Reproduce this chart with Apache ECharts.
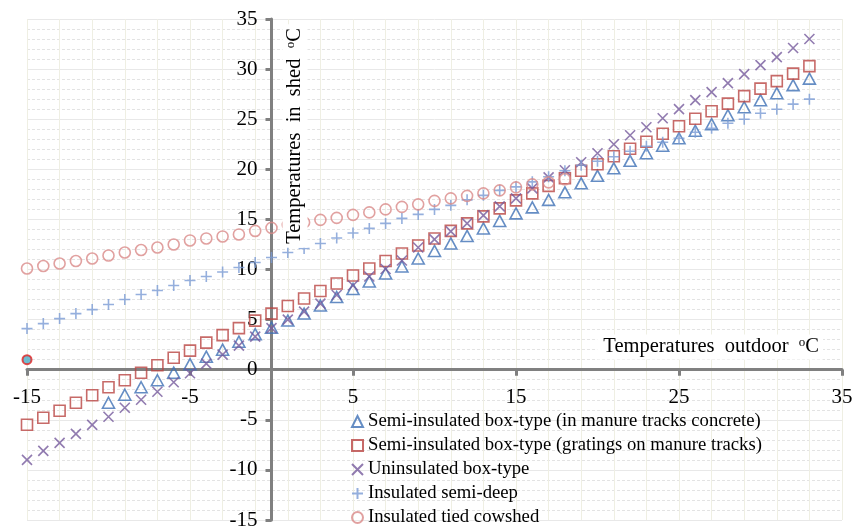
<!DOCTYPE html>
<html>
<head>
<meta charset="utf-8">
<script src="https://cdn.jsdelivr.net/npm/echarts@6/dist/echarts.min.js"></script>
<style>
    html, body { margin: 0; padding: 0; background: #fff; }
    #chart { width: 857px; height: 530px; }
</style>
</head>
<body>
<div id="chart"></div>
<script>
// outdoor temperature, oC
var outdoor = [-15, -14, -13, -12, -11, -10, -9, -8, -7, -6, -5, -4, -3, -2, -1, 0, 1, 2, 3, 4, 5, 6, 7, 8, 9,
    10, 11, 12, 13, 14, 15, 16, 17, 18, 19, 20, 21, 22, 23, 24, 25, 26, 27, 28, 29, 30, 31, 32, 33];

// temperatures in shed, oC (null = no point)
var concrete = [null, null, null, null, null, -3.3, -2.5, -1.75, -1.05, -0.3, 0.55, 1.3, 2.0, 2.8, 3.55, 4.2, 4.9, 5.6, 6.4, 7.25,
    8.05, 8.8, 9.6, 10.3, 11.1, 11.85, 12.6, 13.35, 14.1, 14.85, 15.6, 16.2, 16.95, 17.7, 18.6, 19.35, 20.1, 20.85, 21.6, 22.35,
    23.1, 23.85, 24.5, 25.4, 26.2, 26.9, 27.6, 28.4, 29.05];
var gratings = [-5.5, -4.8, -4.1, -3.3, -2.55, -1.75, -1.05, -0.3, 0.45, 1.2, 1.9, 2.7, 3.45, 4.15, 4.9, 5.6, 6.35, 7.1, 7.85, 8.6,
    9.4, 10.1, 10.85, 11.6, 12.4, 13.1, 13.85, 14.6, 15.3, 16.1, 16.9, 17.6, 18.35, 19.1, 19.85, 20.5, 21.3, 22.05, 22.75, 23.55,
    24.3, 25.05, 25.8, 26.55, 27.3, 28.05, 28.8, 29.55, 30.3];
var uninsulated = [-9.0, -8.1, -7.3, -6.4, -5.5, -4.7, -3.8, -3.0, -2.2, -1.25, -0.35, 0.6, 1.5, 2.4, 3.3, 4.15, 5.0, 5.8, 6.6, 7.45,
    8.4, 9.3, 10.05, 10.9, 12.2, 13.0, 13.8, 14.6, 15.4, 16.3, 17.1, 18.1, 19.2, 19.9, 20.7, 21.6, 22.5, 23.4, 24.2, 25.1,
    26.0, 26.9, 27.7, 28.6, 29.5, 30.4, 31.2, 32.1, 33.0];
var semiDeep = [4.1, 4.6, 5.1, 5.6, 6.0, 6.5, 7.0, 7.5, 7.9, 8.4, 8.9, 9.3, 9.75, 10.2, 10.7, 11.2, 11.7, 12.1, 12.6, 13.15,
    13.65, 14.1, 14.6, 15.1, 15.5, 16.0, 16.4, 16.95, 17.4, 17.9, 18.25, 18.75, 19.25, 19.85, 20.4, 20.8, 21.25, 21.8, 22.3, 22.7,
    23.1, 23.7, 24.1, 24.6, 25.0, 25.6, 26.0, 26.5, 27.0];
var cowshed = [10.1, 10.35, 10.6, 10.85, 11.1, 11.4, 11.7, 11.95, 12.2, 12.5, 12.9, 13.1, 13.3, 13.5, 13.85, 14.15, 14.45, 14.7, 14.95, 15.15,
    15.45, 15.7, 16.0, 16.25, 16.5, 16.85, 17.1, 17.35, 17.6, 17.9, 18.2, 18.5, 18.7, 19.0];
// stray point at the left edge
var strayX = [-15];
var strayY = [1];

var names = ['Semi-insulated box-type (in manure tracks concrete)', 'Semi-insulated box-type (gratings on manure tracks)',
    'Uninsulated box-type', 'Insulated semi-deep', 'Insulated tied cowshed'];

var xMin = -15, xMax = 35, yMin = -15, yMax = 35;
var serif = 'Liberation Serif, Times New Roman, serif';
var crossPath = 'path://M0,0L10,10M10,0L0,10';
var plusPath = 'path://M5,0L5,10M0,5L10,5';

// grid box, axes are shifted onto the zero lines
var gLeft = 27, gRight = 15, gTop = 19, gBottom = 10;
var gW = 857 - gLeft - gRight, gH = 530 - gTop - gBottom;
var yAxisShift = -(0 - xMin) / (xMax - xMin) * gW;
var xAxisShift = -(0 - yMin) / (yMax - yMin) * gH;

function pairs(xs, ys) {
    var out = [];
    for (var i = 0; i < ys.length; i++) {
        if (ys[i] !== null) out.push([xs[i], ys[i]]);
    }
    return out;
}

function mark(name, data, symbol, size, color) {
    return {
        name: name,
        type: 'scatter',
        data: data,
        symbol: symbol,
        symbolSize: size,
        itemStyle: { color: 'transparent', borderColor: color, borderWidth: 1.6 },
        emphasis: { disabled: true }
    };
}

var chart = echarts.init(document.getElementById('chart'));
chart.setOption({
    animation: false,
    grid: { left: gLeft, right: gRight, top: gTop, bottom: gBottom, containLabel: false, outerBoundsMode: 'none' },
    legend: {
        data: names,
        orient: 'vertical',
        left: 351,
        top: 412,
        padding: 0,
        itemGap: 5,
        itemWidth: 11,
        itemHeight: 11,
        textStyle: { fontFamily: serif, fontSize: 18.7, lineHeight: 19, color: '#000' }
    },
    xAxis: {
        type: 'value',
        min: xMin,
        max: xMax,
        interval: 10,
        position: 'bottom',
        offset: xAxisShift,
        axisLine: { onZero: false, lineStyle: { color: '#808080', width: 3 } },
        axisTick: { show: true, length: 6, lineStyle: { color: '#808080', width: 3 } },
        axisLabel: { fontFamily: serif, fontSize: 21, color: '#000', margin: 17 },
        splitLine: { show: true, lineStyle: { color: '#efefe3', width: 1 } },
        minorTick: { show: false, splitNumber: 5 },
        minorSplitLine: { show: true, lineStyle: { color: '#efefe3', width: 1 } }
    },
    yAxis: {
        type: 'value',
        min: yMin,
        max: yMax,
        interval: 5,
        position: 'left',
        offset: yAxisShift,
        axisLine: { onZero: false, lineStyle: { color: '#808080', width: 3 } },
        axisTick: { show: true, length: 6, lineStyle: { color: '#808080', width: 3 } },
        axisLabel: { fontFamily: serif, fontSize: 21, color: '#000', margin: 14 },
        splitLine: { show: true, lineStyle: { color: '#e8e8e8', width: 1 } },
        minorTick: { show: false, splitNumber: 5 },
        minorSplitLine: { show: true, lineStyle: { color: '#e3e3e3', width: 1, type: [3, 2] } }
    },
    graphic: [
        {
            type: 'text',
            x: 823,
            y: 347,
            z: 100,
            style: {
                text: 'Temperatures  outdoor  {s|o}C',
                align: 'right',
                verticalAlign: 'middle',
                fill: '#000',
                fontFamily: serif,
                fontSize: 20.5,
                backgroundColor: '#fff',
                padding: [2, 4, 2, 6],
                rich: { s: { fontFamily: serif, fontSize: 13, verticalAlign: 'top', lineHeight: 13 } }
            }
        },
        {
            type: 'text',
            x: 295,
            y: 136,
            rotation: Math.PI / 2,
            z: 100,
            style: {
                text: 'Temperatures  in  shed  {s|o}C',
                align: 'center',
                verticalAlign: 'middle',
                fill: '#000',
                fontFamily: serif,
                fontSize: 20.5,
                backgroundColor: '#fff',
                padding: [2, 4, 2, 4],
                rich: { s: { fontFamily: serif, fontSize: 13, verticalAlign: 'top', lineHeight: 13 } }
            }
        }
    ],
    series: [
        {
            name: 'stray',
            type: 'scatter',
            data: pairs(strayX, strayY),
            symbol: 'circle',
            symbolSize: 9,
            itemStyle: { color: '#4bacc6', borderColor: '#e02020', borderWidth: 2 },
            emphasis: { disabled: true }
        },
        mark(names[0], pairs(outdoor, concrete), 'triangle', [12, 11], '#3f71b5'),
        mark(names[1], pairs(outdoor, gratings), 'rect', 11, '#b94542'),
        mark(names[2], pairs(outdoor, uninsulated), crossPath, 10, '#765a9c'),
        mark(names[3], pairs(outdoor, semiDeep), plusPath, 11, '#7a9bd4'),
        mark(names[4], pairs(outdoor, cowshed), 'circle', 11, '#d98a88')
    ]
});
</script>
</body>
</html>
